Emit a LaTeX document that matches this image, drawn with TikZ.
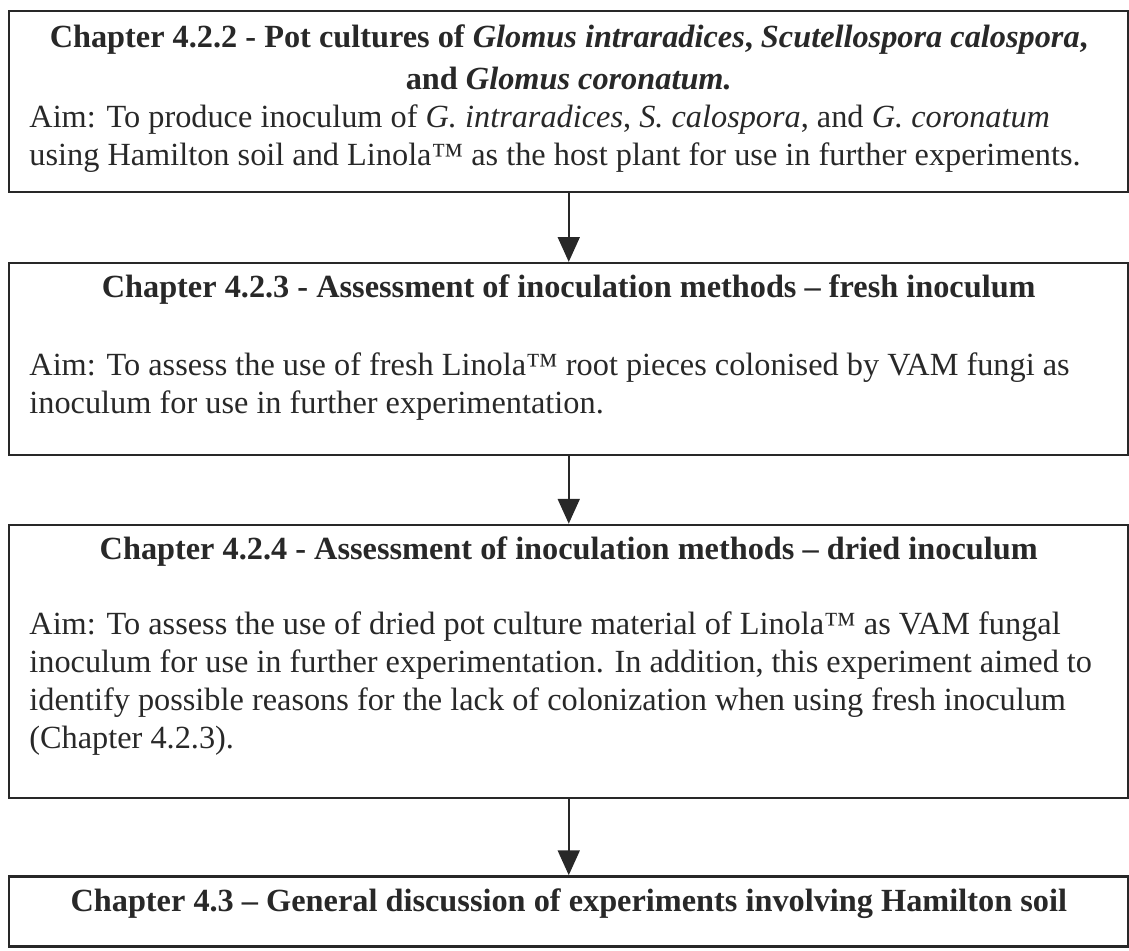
\documentclass[tikz,border=0pt]{standalone}
\usepackage{fontspec}
\setmainfont{Liberation Serif}
\usepackage{tikz}
\usetikzlibrary{
  positioning,
  arrows.meta
}
\definecolor{scanink}{RGB}{40,40,40}

\begin{document}
\begin{tikzpicture}[
  >={Triangle[width=8pt,length=9pt]},
  node distance=24.9pt,
  % --- node styles ---
  chbox/.style={
    draw=scanink, line width=0.9pt, inner sep=0pt,
    minimum width=406.9pt
  },
  chtitle/.style={
    font=\bfseries\fontsize{11.75}{15.3}\selectfont, align=center,
    text=scanink, inner sep=0pt
  },
  aimtext/.style={
    font=\fontsize{11.75}{13.8}\selectfont, align=left,
    text=scanink, inner sep=0pt
  },
  arr/.style={->, line width=0.6pt, scanink},
]
\useasboundingbox (0,0) rectangle (410.5pt,-345.5pt);

% Row 1: pot cultures (base anchor sits on the last line)
\node[chbox, minimum height=65.8pt, anchor=north west] (pots) at (2.9pt,-3.6pt) {};
\node[chtitle, anchor=base] (potsT) at ([yshift=-29.1pt]pots.north)
  {Chapter 4.2.2 - Pot cultures of \textit{Glomus intraradices}, \textit{Scutellospora calospora},\\
   and \textit{Glomus coronatum.}};
\node[aimtext, anchor=base west] (potsA) at ([xshift=7.6pt,yshift=-56.4pt]pots.north west)
  {Aim: To produce inoculum of \textit{G. intraradices}, \textit{S. calospora}, and \textit{G. coronatum}\\
   using Hamilton soil and Linola™ as the host plant for use in further experiments.};

% Row 2: fresh inoculum
\node[chbox, minimum height=69.8pt, below=of pots] (fresh) {};
\node[chtitle, anchor=base] (freshT) at ([yshift=-13.1pt]fresh.north)
  {Chapter 4.2.3 - Assessment of inoculation methods – fresh inoculum};
\node[aimtext, anchor=base west] (freshA) at ([xshift=7.6pt,yshift=-55pt]fresh.north west)
  {Aim: To assess the use of fresh Linola™ root pieces colonised by VAM fungi as\\
   inoculum for use in further experimentation.};

% Row 3: dried inoculum
\node[chbox, minimum height=99.3pt, below=24.5pt of fresh] (dried) {};
\node[chtitle, anchor=base] (driedT) at ([yshift=-13.1pt]dried.north)
  {Chapter 4.2.4 - Assessment of inoculation methods – dried inoculum};
\node[aimtext, anchor=base west] (driedA) at ([xshift=7.6pt,yshift=-81.8pt]dried.north west)
  {Aim: To assess the use of dried pot culture material of Linola™ as VAM fungal\\
   inoculum for use in further experimentation. In addition, this experiment aimed to\\
   identify possible reasons for the lack of colonization when using fresh inoculum\\
   (Chapter 4.2.3).};

% Row 4: general discussion
\node[chbox, minimum height=25.5pt, below=27.6pt of dried] (disc) {};
\node[chtitle, anchor=base] (discT) at ([yshift=-13.1pt]disc.north)
  {Chapter 4.3 – General discussion of experiments involving Hamilton soil};

% ─── Arrows ──────────────────────────────────────────────────────────────
\draw[arr] (pots.south) -- (fresh.north);
\draw[arr] (fresh.south) -- (dried.north);
\draw[arr] (dried.south) -- (disc.north);

\end{tikzpicture}
\end{document}
